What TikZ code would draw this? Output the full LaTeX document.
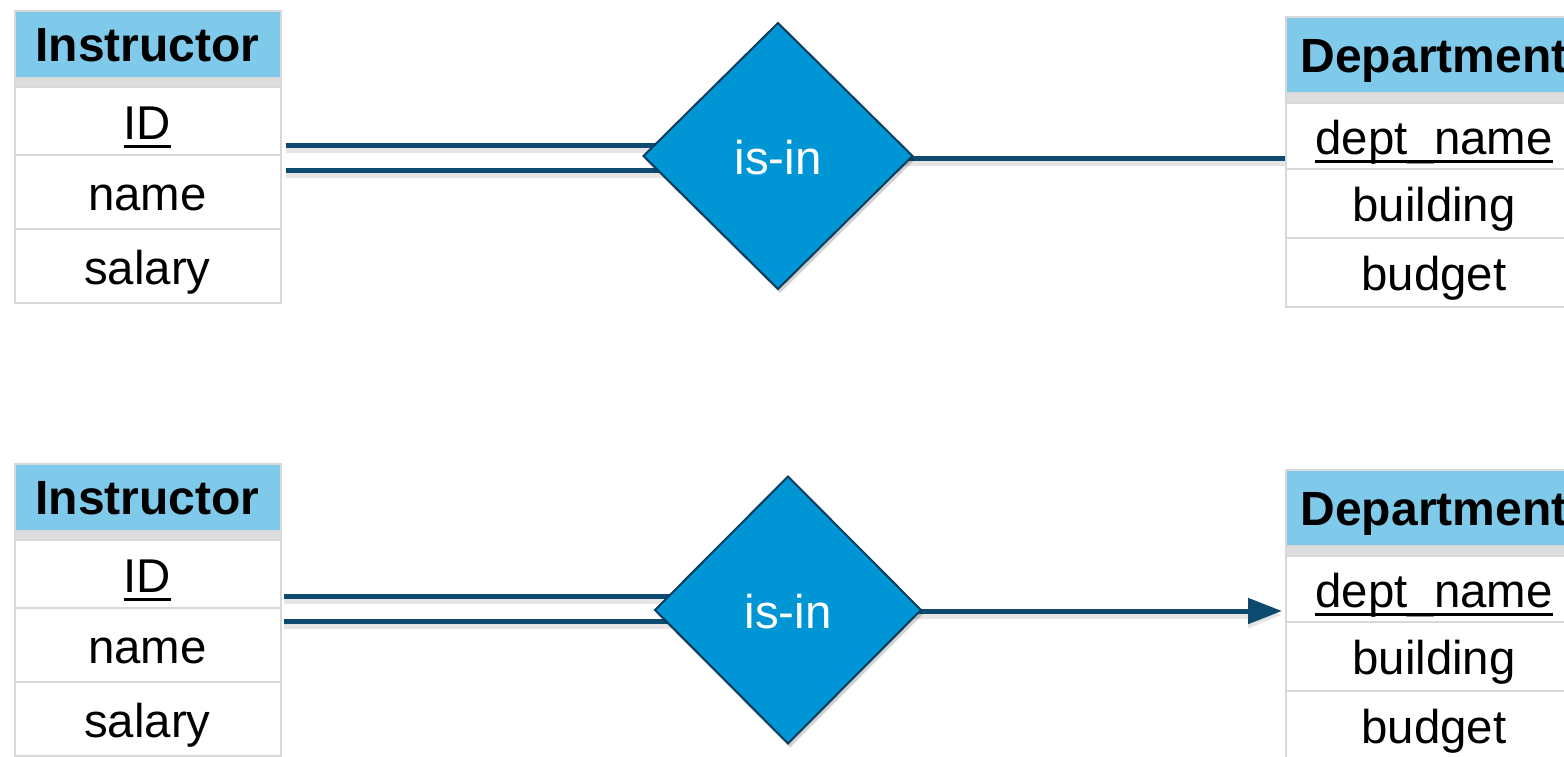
\documentclass[tikz,border=0pt]{standalone}
\usepackage{fontspec}
\setmainfont{Liberation Sans}
\usetikzlibrary{shapes.geometric,arrows.meta,backgrounds,shadows,calc}
\definecolor{hdrblue}{RGB}{127,202,234}
\definecolor{stripgray}{RGB}{221,221,221}
\definecolor{cellborder}{RGB}{216,216,216}
\definecolor{relfill}{RGB}{0,150,214}
\definecolor{reledge}{RGB}{10,60,92}
\definecolor{linkblue}{RGB}{14,74,111}
\newcommand\keyul[1]{\setbox0\hbox{#1}\rlap{\rule[-4.5pt]{\wd0}{1.5pt}}\box0}
\begin{document}
\begin{tikzpicture}[x=0.5pt,y=-0.5pt,
  cell/.style={draw=cellborder, line width=1pt, fill=white, inner sep=0pt,
    text height=18pt, text depth=0pt, font=\fontsize{23.7}{28}\selectfont},
  hdr/.style={cell, fill=hdrblue, text height=17pt, font=\bfseries\fontsize{24}{28}\selectfont},
  strip/.style={draw=cellborder, line width=1pt, fill=stripgray, inner sep=0pt},
  iw/.style={minimum width=133pt},
  dw/.style={minimum width=148pt},
  rel/.style={diamond, draw=reledge, line width=1pt, fill=relfill, inner sep=0pt, outer sep=0pt,
    text=white, font=\fontsize{23.7}{28}\selectfont, text height=18pt, text depth=0pt,
    drop shadow={shadow xshift=1pt, shadow yshift=-2pt, opacity=0.18, fill=black}},
  link/.style={draw=linkblue, line width=2.5pt,
    preaction={draw=black, opacity=0.10, line width=3.5pt, transform canvas={yshift=-2pt}}}
]
\useasboundingbox (0,0) rectangle (1564,756);
\clip (0,0) rectangle (1564,756);

% ---------- top diagram ----------
\node[hdr, iw, minimum height=33.5pt] (ih1) at (147.5,44.5) {Instructor};
\node[strip, iw, minimum height=4.5pt] (is1) at (147.5,82.5) {};
\node[cell, iw, minimum height=34pt] (iid1) at (147.5,121) {\keyul{ID}};
\node[cell, iw, minimum height=37pt] (iname1) at (147.5,192) {name};
\node[cell, iw, minimum height=37pt] (isal1) at (147.5,266) {salary};

\node[hdr, dw, minimum height=38pt] (dh1) at (1434,55) {Department};
\node[strip, dw, minimum height=5pt] (ds1) at (1434,98) {};
\node[cell, dw, minimum height=33pt] (dname1) at (1434,136) {\keyul{dept\_name}};
\node[cell, dw, minimum height=34.5pt] (dbld1) at (1434,203.5) {building};
\node[cell, dw, minimum height=34.5pt] (dbud1) at (1434,272.5) {budget};

\node[rel, minimum width=134.5pt, minimum height=133pt] (r1) at (778,156) {is-in};

% ---------- bottom diagram ----------
\node[hdr, iw, minimum height=33.5pt] (ih2) at (147.5,497) {Instructor};
\node[strip, iw, minimum height=4.5pt] (is2) at (147.5,535) {};
\node[cell, iw, minimum height=34pt] (iid2) at (147.5,574) {\keyul{ID}};
\node[cell, iw, minimum height=37pt] (iname2) at (147.5,645) {name};
\node[cell, iw, minimum height=37pt] (isal2) at (147.5,719) {salary};

\node[hdr, dw, minimum height=38pt] (dh2) at (1434,508) {Department};
\node[strip, dw, minimum height=5pt] (ds2) at (1434,551) {};
\node[cell, dw, minimum height=33pt] (dname2) at (1434,589) {\keyul{dept\_name}};
\node[cell, dw, minimum height=34.5pt] (dbld2) at (1434,656.5) {building};
\node[cell, dw, minimum height=34.5pt] (dbud2) at (1434,725.5) {budget};

\node[rel, minimum width=133pt, minimum height=133.5pt] (r2) at (788,610) {is-in};

% ---------- connectors ----------
\begin{scope}[on background layer]
\draw[link] ($(iid1.east |- 0,145.5)+(4.5,0)$) -- (r1.center |- 0,145.5);
\draw[link] ($(iid1.east |- 0,170.5)+(4.5,0)$) -- (r1.center |- 0,170.5);
\draw[link] (r1.center |- 0,158.5) -- (dname1.west |- 0,158.5);

\draw[link] ($(iid2.east |- 0,596.5)+(2.5,0)$) -- (r2.center |- 0,596.5);
\draw[link] ($(iid2.east |- 0,621.5)+(2.5,0)$) -- (r2.center |- 0,621.5);
\draw[link, -{Triangle[length=17pt,width=12.5pt]}, shorten >=1.5pt] (r2.center |- 0,611) -- (dname2.west |- 0,611);
\end{scope}
\end{tikzpicture}
\end{document}
